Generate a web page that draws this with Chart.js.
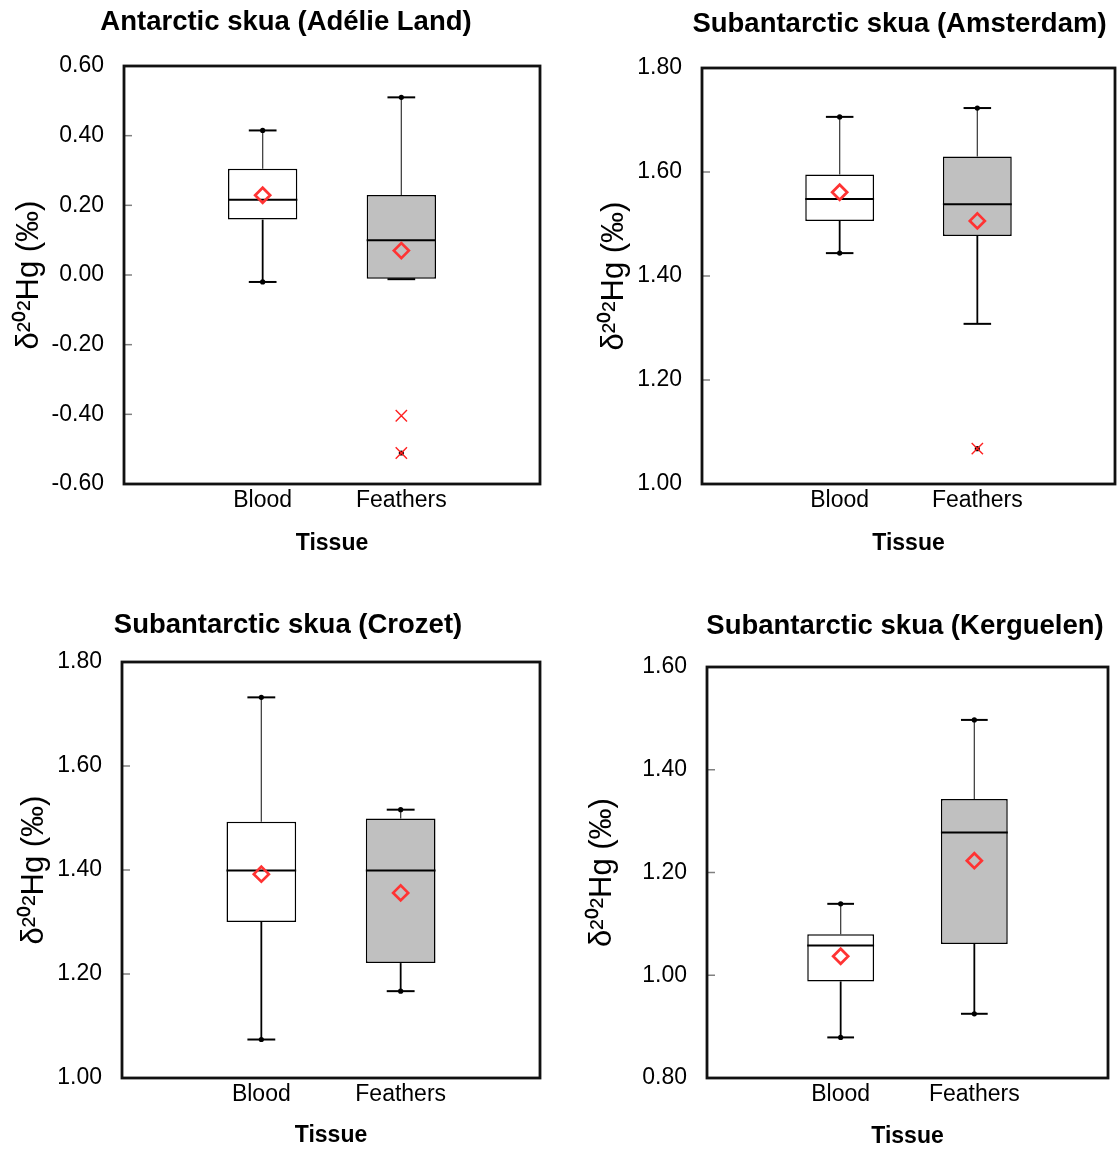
<!DOCTYPE html>
<html lang="en">
<head>
<meta charset="UTF-8" />
<title>Skua δ202Hg by tissue</title>
<script src="https://cdn.jsdelivr.net/npm/chart.js"></script>
<style>
  html, body { margin: 0; padding: 0; background: #fff; overflow: hidden; }
  body { position: relative; width: 1118px; height: 1151px; }
  canvas { position: absolute; }
</style>
</head>
<body>
<canvas id="panel0"></canvas>
<canvas id="panel1"></canvas>
<canvas id="panel2"></canvas>
<canvas id="panel3"></canvas>
<script>
// categories on the x axis
const categories = ['Blood', 'Feathers'];

const panelTitles = [
  'Antarctic skua (Adélie Land)',
  'Subantarctic skua (Amsterdam)',
  'Subantarctic skua (Crozet)',
  'Subantarctic skua (Kerguelen)'
];
const yTitle = 'δ²⁰²Hg (‰)';
const xTitle = 'Tissue';

// y axis range per panel
const yMin = [-0.6, 1.0, 1.0, 0.8];
const yMax = [0.6, 1.8, 1.8, 1.6];
const yStep = [0.2, 0.2, 0.2, 0.2];

// box stats, one row per panel: [Blood, Feathers]
const q1 = [[0.159, -0.011], [1.506, 1.477], [1.300, 1.221], [0.988, 1.061]];
const median = [[0.216, 0.100], [1.548, 1.538], [1.399, 1.399], [1.058, 1.278]];
const q3 = [[0.305, 0.230], [1.595, 1.630], [1.493, 1.499], [1.080, 1.343]];
const whiskerLow = [[-0.020, -0.012], [1.444, 1.308], [1.074, 1.167], [0.879, 0.925]];
const whiskerHigh = [[0.415, 0.510], [1.706, 1.723], [1.732, 1.516], [1.139, 1.497]];
const means = [[0.229, 0.070], [1.561, 1.506], [1.392, 1.356], [1.037, 1.223]];
const minima = [[-0.020, -0.511], [1.444, 1.068], [1.074, 1.167], [0.879, 0.925]];
const maxima = [[0.415, 0.510], [1.706, 1.723], [1.732, 1.516], [1.139, 1.497]];
const outliers = [[[], [-0.404, -0.511]], [[], [1.068]], [[], []], [[], []]];

const boxFill = ['#ffffff', '#c0c0c0'];

// where each panel sits on the page (plot = chart area l, t, r, b)
const frames = [
  { left: 0, top: 0, width: 572, height: 580, plot: [124, 66, 540, 484], titleY: 22, yTitleX: 29, xTitleY: 544 },
  { left: 580, top: 0, width: 639, height: 580, plot: [702, 68, 1115, 484], titleY: 24, yTitleX: 614, xTitleY: 544 },
  { left: 0, top: 590, width: 576, height: 561, plot: [122, 662, 540, 1078], titleY: 625, yTitleX: 34, xTitleY: 1136 },
  { left: 580, top: 590, width: 650, height: 561, plot: [707, 667, 1108, 1078], titleY: 626, yTitleX: 602, xTitleY: 1137 }
];

Chart.defaults.font.family = "'Liberation Sans', Arial, sans-serif";
Chart.defaults.color = '#000';

const TITLE_SIZE = 27.5, TICK_SIZE = 23, XTITLE_SIZE = 23, YTITLE_SIZE = 31;

// whiskers, caps, medians, frame and inside tick marks
function makeBoxPlugin(i) {
  return {
    id: 'boxPlot' + i,
    beforeDatasetsDraw(chart) {
      const ctx = chart.ctx, y = chart.scales.y, area = chart.chartArea;
      ctx.save();
      // small tick marks inside the left edge
      ctx.strokeStyle = '#808080';
      ctx.lineWidth = 1.5;
      y.ticks.forEach((t) => {
        const py = y.getPixelForValue(t.value);
        ctx.beginPath();
        ctx.moveTo(area.left, py);
        ctx.lineTo(area.left + 8, py);
        ctx.stroke();
      });
      const meta = chart.getDatasetMeta(0);
      meta.data.forEach((bar, j) => {
        const cx = bar.x, capHalf = bar.width * 0.2;
        const yHi = y.getPixelForValue(whiskerHigh[i][j]);
        const yQ3 = y.getPixelForValue(q3[i][j]);
        const yQ1 = y.getPixelForValue(q1[i][j]);
        const yLo = y.getPixelForValue(whiskerLow[i][j]);
        // upper whisker
        ctx.strokeStyle = '#444';
        ctx.lineWidth = 1.3;
        ctx.beginPath();
        ctx.moveTo(cx, yQ3);
        ctx.lineTo(cx, yHi);
        ctx.stroke();
        // lower whisker
        ctx.strokeStyle = '#000';
        ctx.lineWidth = 1.8;
        ctx.beginPath();
        ctx.moveTo(cx, yQ1);
        ctx.lineTo(cx, yLo);
        ctx.stroke();
        // caps
        ctx.lineWidth = 2;
        [yHi, yLo].forEach((py) => {
          ctx.beginPath();
          ctx.moveTo(cx - capHalf, py);
          ctx.lineTo(cx + capHalf, py);
          ctx.stroke();
        });
      });
      ctx.restore();
    },
    afterDatasetDraw(chart, args) {
      if (args.index !== 0) return;
      const ctx = chart.ctx, y = chart.scales.y;
      ctx.save();
      ctx.strokeStyle = '#000';
      ctx.lineWidth = 2;
      args.meta.data.forEach((bar, j) => {
        const py = y.getPixelForValue(median[i][j]);
        ctx.beginPath();
        ctx.moveTo(bar.x - bar.width / 2, py);
        ctx.lineTo(bar.x + bar.width / 2, py);
        ctx.stroke();
      });
      ctx.restore();
    },
    afterDraw(chart) {
      const ctx = chart.ctx, a = chart.chartArea;
      ctx.save();
      ctx.strokeStyle = '#111';
      ctx.lineWidth = 2.8;
      ctx.strokeRect(a.left, a.top, a.right - a.left, a.bottom - a.top);
      ctx.restore();
    }
  };
}

function buildChart(i) {
  const f = frames[i];
  const [pl, pt, pr, pb] = f.plot;
  const canvas = document.getElementById('panel' + i);
  canvas.width = f.width;
  canvas.height = f.height;
  canvas.style.left = f.left + 'px';
  canvas.style.top = f.top + 'px';

  const titleLH = TITLE_SIZE * 1.2;
  const titlePadTop = f.titleY - f.top - titleLH / 2;
  const titlePadBottom = pt - f.top - titlePadTop - titleLH;
  const yWidth = pl - f.left;
  const rightWidth = f.left + f.width - pr;
  const xHeight = f.top + f.height - pb;
  const xTitlePad = f.top + f.height - f.xTitleY - (XTITLE_SIZE * 1.2) / 2;
  const yTitlePad = f.yTitleX - f.left - (YTITLE_SIZE * 1.2) / 2;

  const pts = (arr) => categories.map((c, j) => ({ x: c, y: arr[i][j] }));
  const outlierPts = [];
  categories.forEach((c, j) => outliers[i][j].forEach((v) => outlierPts.push({ x: c, y: v })));

  new Chart(canvas, {
    type: 'bar',
    data: {
      labels: ['', ...categories, ''],
      datasets: [
        {
          label: 'Interquartile range',
          data: categories.map((c, j) => ({ x: c, y: [q1[i][j], q3[i][j]] })),
          backgroundColor: boxFill,
          borderColor: '#000',
          borderWidth: 1.5,
          borderSkipped: false,
          barPercentage: 0.5,
          categoryPercentage: 1,
          yAxisID: 'y',
          order: 5
        },
        {
          type: 'line', label: 'Minimum', data: pts(minima), showLine: false, yAxisID: 'y',
          pointRadius: 2.6, pointBackgroundColor: '#000', pointBorderWidth: 0, order: 4
        },
        {
          type: 'line', label: 'Maximum', data: pts(maxima), showLine: false, yAxisID: 'y',
          pointRadius: 2.6, pointBackgroundColor: '#000', pointBorderWidth: 0, order: 3
        },
        {
          type: 'line', label: 'Outliers', data: outlierPts, showLine: false, yAxisID: 'y',
          pointStyle: 'crossRot', pointRadius: 8, pointBorderColor: '#ff2020', pointBorderWidth: 1.4, order: 2
        },
        {
          type: 'line', label: 'Mean', data: pts(means), showLine: false, yAxisID: 'y',
          pointStyle: 'rectRot', pointRadius: 7.5, pointBorderColor: '#ff3333',
          pointBackgroundColor: 'rgba(0,0,0,0)', pointBorderWidth: 2.7, order: 1
        }
      ]
    },
    options: {
      responsive: false,
      animation: false,
      devicePixelRatio: 1,
      layout: { padding: 0 },
      plugins: {
        legend: { display: false },
        tooltip: { enabled: false },
        title: {
          display: true,
          text: panelTitles[i],
          color: '#000',
          font: { size: TITLE_SIZE, weight: 'bold' },
          padding: { top: titlePadTop, bottom: titlePadBottom }
        }
      },
      scales: {
        x: {
          type: 'category',
          offset: false,
          grid: { display: false, drawTicks: false },
          border: { display: false },
          ticks: { autoSkip: false, maxRotation: 0, padding: 3, color: '#000', font: { size: TICK_SIZE } },
          title: {
            display: true, text: xTitle, color: '#000',
            font: { size: XTITLE_SIZE, weight: 'bold' },
            padding: { top: 0, bottom: xTitlePad }
          },
          afterFit: (s) => { s.height = xHeight; }
        },
        y: {
          type: 'linear',
          position: 'left',
          min: yMin[i],
          max: yMax[i],
          grid: { display: false, drawTicks: false },
          border: { display: false },
          ticks: {
            stepSize: yStep[i],
            padding: 20,
            color: '#000',
            font: { size: TICK_SIZE },
            callback: (v) => (Math.abs(v) < 1e-9 ? 0 : v).toFixed(2)
          },
          title: {
            display: true, text: yTitle, color: '#000',
            font: { size: YTITLE_SIZE },
            padding: { top: yTitlePad, bottom: 0 }
          },
          afterFit: (s) => { s.width = yWidth; }
        },
        // empty right-hand axis, only reserves space so the title stays where it is
        yR: {
          type: 'linear',
          position: 'right',
          grid: { display: false, drawTicks: false },
          border: { display: false },
          ticks: { display: false },
          afterFit: (s) => { s.width = rightWidth; }
        }
      }
    },
    plugins: [makeBoxPlugin(i)]
  });
}

for (let i = 0; i < 4; i++) buildChart(i);
</script>
</body>
</html>
